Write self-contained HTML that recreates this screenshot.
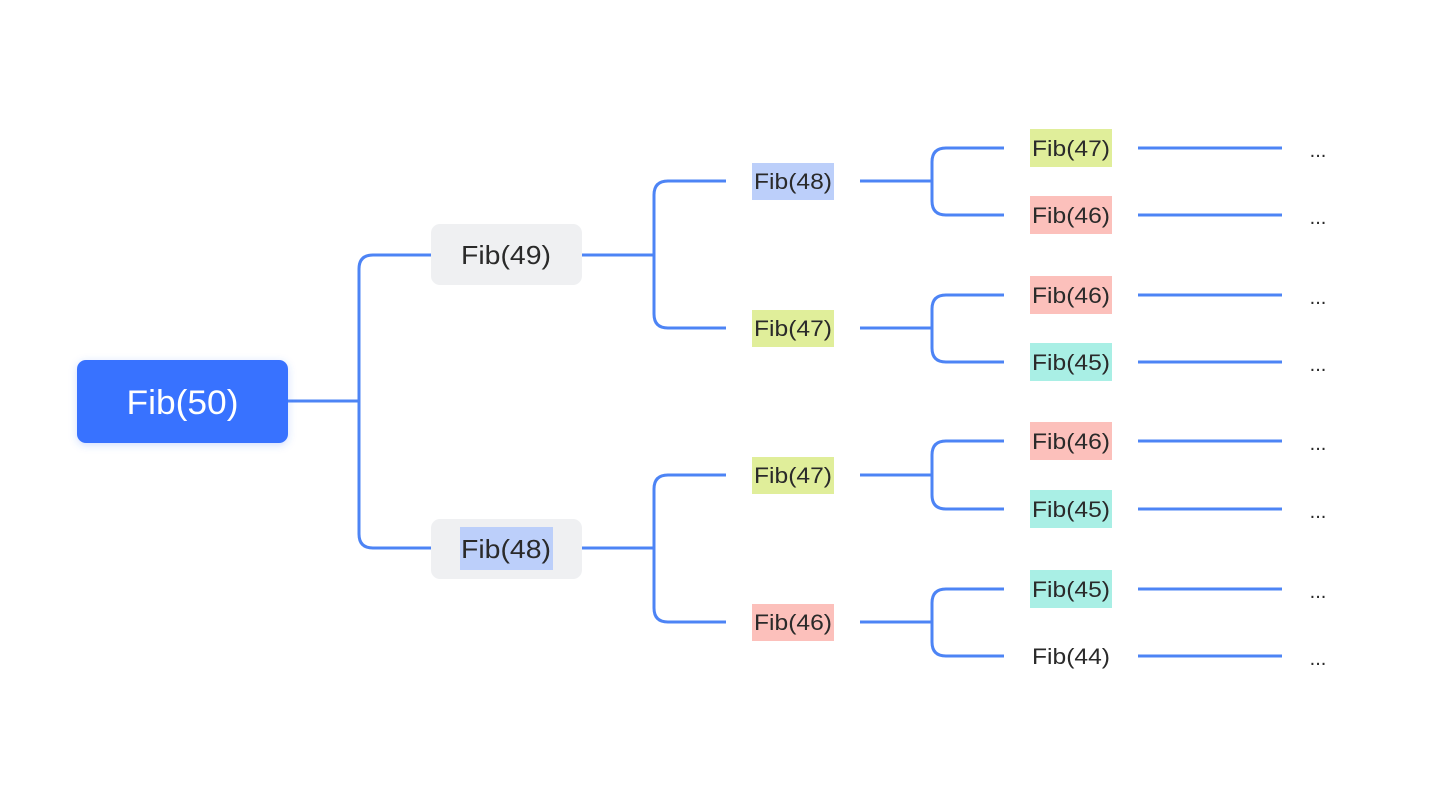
<!DOCTYPE html>
<html><head><meta charset="utf-8"><style>
html,body{margin:0;padding:0;background:#fff;width:1432px;height:804px;overflow:hidden}
svg{display:block}
text{font-family:"Liberation Sans",sans-serif;fill:#2a2a2a}
</style></head><body>
<svg width="1432" height="804" viewBox="0 0 1432 804">
<defs><filter id="sh" x="-20%" y="-30%" width="140%" height="160%"><feDropShadow dx="0" dy="2" stdDeviation="4" flood-color="#3872ff" flood-opacity="0.25"/></filter></defs>
<g fill="none" stroke="#4d84f5" stroke-width="3">
<path d="M288 401H359"/>
<path d="M431 255H373Q359 255 359 269V534Q359 548 373 548H431"/>
<path d="M582 255H654M726 181H668Q654 181 654 195V314Q654 328 668 328H726"/>
<path d="M582 548H654M726 475H668Q654 475 654 489V608Q654 622 668 622H726"/>
<path d="M860 181H932M1004 148H946Q932 148 932 162V201Q932 215 946 215H1004"/>
<path d="M860 328H932M1004 295H946Q932 295 932 309V348Q932 362 946 362H1004"/>
<path d="M860 475H932M1004 441H946Q932 441 932 455V495Q932 509 946 509H1004"/>
<path d="M860 622H932M1004 589H946Q932 589 932 603V642Q932 656 946 656H1004"/>
<path d="M1138 148H1282M1138 215H1282M1138 295H1282M1138 362H1282M1138 441H1282M1138 509H1282M1138 589H1282M1138 656H1282"/>
</g>
<rect x="77" y="360" width="211" height="83" rx="9" fill="#3772ff" filter="url(#sh)"/>
<text x="182.5" y="414" font-size="34" text-anchor="middle" style="fill:#fff" textLength="112" lengthAdjust="spacingAndGlyphs">Fib(50)</text>
<rect x="431" y="224" width="151" height="61" rx="9" fill="#eff0f2"/>
<text x="506" y="264" font-size="26" text-anchor="middle" textLength="90" lengthAdjust="spacingAndGlyphs">Fib(49)</text>
<rect x="431" y="519" width="151" height="60" rx="9" fill="#eff0f2"/>
<rect x="460" y="527" width="93" height="43" fill="#bccffa"/>
<text x="506" y="558" font-size="26" text-anchor="middle" textLength="90" lengthAdjust="spacingAndGlyphs">Fib(48)</text>
<g font-size="22">
<rect x="752" y="163" width="82" height="37" fill="#bccffa"/><text x="793" y="189" text-anchor="middle" textLength="78" lengthAdjust="spacingAndGlyphs">Fib(48)</text>
<rect x="752" y="310" width="82" height="37" fill="#e0ee9a"/><text x="793" y="336" text-anchor="middle" textLength="78" lengthAdjust="spacingAndGlyphs">Fib(47)</text>
<rect x="752" y="457" width="82" height="37" fill="#e0ee9a"/><text x="793" y="483" text-anchor="middle" textLength="78" lengthAdjust="spacingAndGlyphs">Fib(47)</text>
<rect x="752" y="604" width="82" height="37" fill="#fcc0bb"/><text x="793" y="630" text-anchor="middle" textLength="78" lengthAdjust="spacingAndGlyphs">Fib(46)</text>

<rect x="1030" y="129" width="82" height="38" fill="#e0ee9a"/><text x="1071" y="156" text-anchor="middle" textLength="78" lengthAdjust="spacingAndGlyphs">Fib(47)</text>
<rect x="1030" y="196" width="82" height="38" fill="#fcc0bb"/><text x="1071" y="223" text-anchor="middle" textLength="78" lengthAdjust="spacingAndGlyphs">Fib(46)</text>
<rect x="1030" y="276" width="82" height="38" fill="#fcc0bb"/><text x="1071" y="303" text-anchor="middle" textLength="78" lengthAdjust="spacingAndGlyphs">Fib(46)</text>
<rect x="1030" y="343" width="82" height="38" fill="#a9efe5"/><text x="1071" y="370" text-anchor="middle" textLength="78" lengthAdjust="spacingAndGlyphs">Fib(45)</text>
<rect x="1030" y="422" width="82" height="38" fill="#fcc0bb"/><text x="1071" y="449" text-anchor="middle" textLength="78" lengthAdjust="spacingAndGlyphs">Fib(46)</text>
<rect x="1030" y="490" width="82" height="38" fill="#a9efe5"/><text x="1071" y="517" text-anchor="middle" textLength="78" lengthAdjust="spacingAndGlyphs">Fib(45)</text>
<rect x="1030" y="570" width="82" height="38" fill="#a9efe5"/><text x="1071" y="597" text-anchor="middle" textLength="78" lengthAdjust="spacingAndGlyphs">Fib(45)</text>
<text x="1071" y="664" text-anchor="middle" textLength="78" lengthAdjust="spacingAndGlyphs">Fib(44)</text>
</g>
<g font-size="20" text-anchor="middle">
<text x="1318" y="157">...</text><text x="1318" y="224">...</text><text x="1318" y="304">...</text><text x="1318" y="371">...</text>
<text x="1318" y="450">...</text><text x="1318" y="518">...</text><text x="1318" y="598">...</text><text x="1318" y="665">...</text>
</g>
</svg>
</body></html>
